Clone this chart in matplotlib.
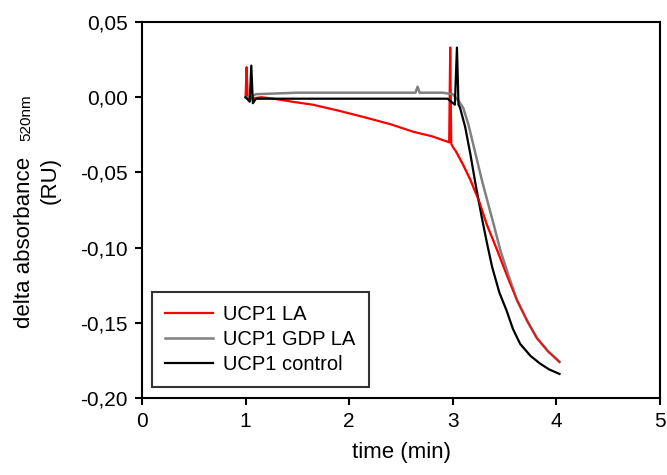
import numpy as np
import matplotlib
matplotlib.use('Agg')
import matplotlib.pyplot as plt
from matplotlib.ticker import FuncFormatter

plt.rcParams['font.family'] = 'Liberation Sans'

# UCP1 LA (red)
t_la = [1.00, 1.01, 1.02, 1.05, 1.15, 1.27, 1.45, 1.65, 1.90, 2.13, 2.40, 2.62, 2.80,
        2.965, 2.975, 2.985, 3.00, 3.03, 3.10, 3.17, 3.25, 3.33, 3.43, 3.52, 3.62,
        3.72, 3.81, 3.92, 4.03]
y_la = [0.000, 0.020, -0.001, -0.001, 0.000, -0.001, -0.003, -0.005, -0.009, -0.013,
        -0.018, -0.023, -0.026, -0.030, 0.033, -0.031, -0.033, -0.036, -0.045, -0.055,
        -0.0685, -0.085, -0.102, -0.118, -0.135, -0.149, -0.160, -0.169, -0.176]

# UCP1 GDP LA (grey)
t_gdp = [1.00, 1.05, 1.10, 1.50, 2.00, 2.50, 2.64, 2.66, 2.68, 2.90, 3.00, 3.05,
         3.10, 3.15, 3.21, 3.28, 3.33, 3.40, 3.46, 3.54, 3.62, 3.72, 3.81, 3.92, 4.03]
y_gdp = [0.000, 0.000, 0.002, 0.003, 0.003, 0.003, 0.003, 0.007, 0.003, 0.003, 0.002,
         -0.002, -0.007, -0.018, -0.035, -0.055, -0.068, -0.086, -0.102, -0.119,
         -0.135, -0.149, -0.160, -0.169, -0.176]

# UCP1 control (black)
t_ctrl = [1.00, 1.04, 1.055, 1.07, 1.10, 1.50, 2.00, 2.50, 2.95, 3.02, 3.04, 3.055,
          3.07, 3.12, 3.17, 3.22, 3.28, 3.33, 3.38, 3.45, 3.52, 3.58, 3.65, 3.75,
          3.84, 3.93, 4.03]
y_ctrl = [0.000, -0.003, 0.021, -0.004, -0.001, -0.001, -0.001, -0.001, -0.001,
          -0.005, 0.033, -0.005, -0.007, -0.020, -0.038, -0.058, -0.080, -0.097,
          -0.113, -0.130, -0.142, -0.154, -0.164, -0.172, -0.177, -0.181, -0.184]

W, H = 667, 475
fig = plt.figure(figsize=(W/100, H/100), dpi=100)
ax = fig.add_axes([142/W, 1-398/H, (660-142)/W, (398-22)/H])

ax.plot(t_la, y_la, color='#ff0000', lw=1.6, label='UCP1 LA')
ax.plot(t_gdp, y_gdp, color='#808080', lw=1.8, label='UCP1 GDP LA')
ax.plot(t_ctrl, y_ctrl, color='black', lw=1.6, label='UCP1 control')
# red trace sits on top of the grey one at the end
ax.plot(t_la[-12:], y_la[-12:], color='#ff0000', lw=1.0)

ax.set_xlim(0, 5)
ax.set_ylim(-0.20, 0.05)
ax.set_xticks([0, 1, 2, 3, 4, 5])
ax.set_yticks([-0.20, -0.15, -0.10, -0.05, 0.00, 0.05])
ax.yaxis.set_major_formatter(FuncFormatter(lambda v, p: f'{v:.2f}'.replace('.', ',')))
ax.tick_params(direction='out', length=5, width=1.5, labelsize=15, pad=5)
for s in ax.spines.values():
    s.set_linewidth(1.5)

ax.set_xlabel('time (min)', fontsize=16, labelpad=8)

# y label: main text with a smaller, same-baseline "520nm"
fig.text(30/W, 1-328/H, 'delta absorbance', fontsize=16, rotation=90,
         rotation_mode='anchor', ha='left', va='baseline')
fig.text(30/W, 1-141/H, '520nm', fontsize=11, rotation=90,
         rotation_mode='anchor', ha='left', va='baseline')
fig.text(56/W, 1-180/H, '(RU)', fontsize=16, rotation=90,
         rotation_mode='anchor', ha='center', va='baseline')

leg = ax.legend(loc='lower left', bbox_to_anchor=(0.019, 0.029), fontsize=14.5,
                frameon=True, fancybox=False, edgecolor='black', handlelength=2.4,
                handletextpad=0.5, borderpad=0.65, labelspacing=0.3,
                borderaxespad=0)
leg.get_frame().set_linewidth(1.5)

fig.savefig('out.png', dpi=100)
